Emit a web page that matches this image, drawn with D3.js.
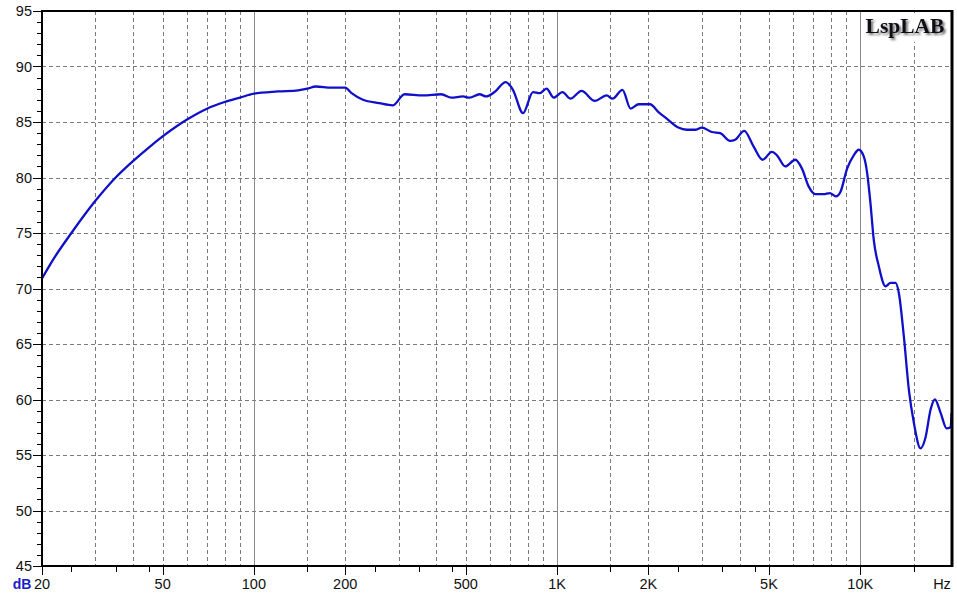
<!DOCTYPE html>
<html>
<head>
<meta charset="utf-8">
<script src="https://cdn.jsdelivr.net/npm/d3@7"></script>
<style>
  html, body { margin: 0; padding: 0; background: #fff; }
  svg { display: block; }
</style>
</head>
<body>
<svg id="chart" width="957" height="596"></svg>
<script>
// ---- data ----
const freqs = [20,22,25,30,35,40,45,50,60,70,80,90,100,120,140,150,160,180,200,210,
  229,259,287,314,361,415,448,489,514,555,584,622,677,715,772,833,877,923,975,
  1042,1107,1204,1332,1457,1524,1643,1748,1859,2025,2160,2300,2512,2678,2853,3002,
  3239,3451,3724,3868,4143,4446,4761,5114,5313,5658,6107,6425,6757,7111,7575,7930,
  8312,8603,9050,9517,9886,10270,10540,10806,11080,11514,12118,12587,13074,13406,
  13925,14465,15028,15812,16424,17064,17633,18414,19275,19871,20000];
const dbValues = [70.9,72.8,75.0,77.9,80.0,81.5,82.7,83.7,85.2,86.2,86.8,87.2,87.55,87.75,87.85,88.0,88.2,88.1,88.1,87.6,
  87.0,86.7,86.5,87.5,87.4,87.5,87.2,87.3,87.2,87.5,87.3,87.7,88.6,87.9,85.8,87.7,87.6,88.0,87.2,
  87.7,87.1,87.8,86.9,87.4,87.1,87.9,86.2,86.6,86.6,85.9,85.3,84.5,84.3,84.3,84.5,
  84.1,84.0,83.3,83.4,84.2,82.8,81.6,82.3,82.0,81.0,81.6,80.8,79.2,78.5,78.5,78.6,
  78.3,78.7,80.8,82.0,82.5,81.9,80.4,77.7,74.4,72.0,70.2,70.5,70.5,69.6,
  65.7,60.9,57.9,55.6,56.6,59.1,60.0,58.8,57.4,57.5,58.8];

const xLabelTicks = [20,50,100,200,500,1000,2000,5000,10000];
const xLabelTexts = ["20","50","100","200","500","1K","2K","5K","10K"];
const xSolidGrid = [100,1000,10000];
const xDashedGrid = [30,40,50,60,70,80,90,150,200,300,400,500,600,700,800,900,
  1500,2000,3000,4000,5000,6000,7000,8000,9000,15000];
const xMinorTicks = [25,35,45,150,250,350,450,1500,2500,3500,4500,15000];
const yMajorTicks = [45,50,55,60,65,70,75,80,85,90,95];
const yMinorTicks = d3.range(45,96,1);
const xUnit = "Hz";
const yUnit = "dB";
const logoText = "LspLAB";

// ---- layout ----
const L = 42, R = 951.5, T = 11, B = 566;
const svg = d3.select("#chart");
const x = d3.scaleLog().domain([20, 20000]).range([L, R]);
const y = d3.scaleLinear().domain([45, 95]).range([B, T]);

const font = "'Liberation Sans', Arial, sans-serif";

// grid
const grid = svg.append("g");
grid.selectAll("line.hg").data(yMajorTicks.filter(v => v > 45 && v < 95)).join("line")
  .attr("x1", L).attr("x2", R)
  .attr("y1", d => Math.round(y(d)) + 0.5).attr("y2", d => Math.round(y(d)) + 0.5)
  .attr("stroke", "#7a7a7a").attr("stroke-width", 1).attr("stroke-dasharray", "4,3");
grid.selectAll("line.vg").data(xDashedGrid).join("line")
  .attr("x1", d => Math.round(x(d)) + 0.5).attr("x2", d => Math.round(x(d)) + 0.5)
  .attr("y1", T).attr("y2", B)
  .attr("stroke", "#7a7a7a").attr("stroke-width", 1).attr("stroke-dasharray", "4,3");
grid.selectAll("line.vs").data(xSolidGrid).join("line")
  .attr("x1", d => Math.round(x(d)) + 0.5).attr("x2", d => Math.round(x(d)) + 0.5)
  .attr("y1", T).attr("y2", B)
  .attr("stroke", "#8a8a8a").attr("stroke-width", 1);

// logo background
const defs = svg.append("defs");
const f = defs.append("filter").attr("id", "sh").attr("x", "-10%").attr("y", "-20%").attr("width", "130%").attr("height", "160%");
f.append("feDropShadow").attr("dx", 2).attr("dy", 2).attr("stdDeviation", 1)
  .attr("flood-color", "#444").attr("flood-opacity", 0.75);
svg.append("rect").attr("x", 863).attr("y", 13).attr("width", 86).attr("height", 29).attr("fill", "#fff");
svg.append("text").attr("x", 905).attr("y", 33).attr("text-anchor", "middle")
  .attr("font-family", "'Liberation Serif', 'Times New Roman', serif")
  .attr("font-weight", "bold").attr("font-size", 21.5).attr("fill", "#101018")
  .attr("filter", "url(#sh)").text(logoText);

// curve
const pts = freqs.map((f, i) => [f, dbValues[i]]);
svg.append("defs").append("clipPath").attr("id", "clip")
  .append("rect").attr("x", L).attr("y", T).attr("width", R - L).attr("height", B - T);
svg.append("path").datum(pts)
  .attr("clip-path", "url(#clip)")
  .attr("d", d3.line().x(d => x(d[0])).y(d => y(d[1])).curve(d3.curveMonotoneX))
  .attr("fill", "none").attr("stroke", "#1010c8").attr("stroke-width", 2.3)
  .attr("stroke-linejoin", "round");

// axes frame
svg.append("line").attr("x1", L - 1).attr("x2", R + 1).attr("y1", T).attr("y2", T).attr("stroke", "#000").attr("stroke-width", 2);
svg.append("line").attr("x1", L - 1).attr("x2", R + 1).attr("y1", B).attr("y2", B).attr("stroke", "#000").attr("stroke-width", 2);
svg.append("line").attr("x1", L).attr("x2", L).attr("y1", T - 1).attr("y2", B + 1).attr("stroke", "#000").attr("stroke-width", 2);
svg.append("line").attr("x1", R + 0.5).attr("x2", R + 0.5).attr("y1", T - 1).attr("y2", B + 1).attr("stroke", "#000").attr("stroke-width", 3);

// y ticks
svg.append("g").selectAll("line").data(yMinorTicks).join("line")
  .attr("x1", d => yMajorTicks.includes(d) ? L - 9 : L - 5).attr("x2", L)
  .attr("y1", d => Math.round(y(d)) + 0.5).attr("y2", d => Math.round(y(d)) + 0.5)
  .attr("stroke", "#000").attr("stroke-width", 1);
svg.append("g").selectAll("text").data(yMajorTicks).join("text")
  .attr("x", 32).attr("y", d => y(d)).attr("dy", "0.36em")
  .attr("text-anchor", "end").attr("font-family", font).attr("font-size", 14.5).attr("fill", "#111")
  .text(d => d);

// x ticks
svg.append("g").selectAll("line").data(xLabelTicks).join("line")
  .attr("x1", d => Math.round(x(d)) + 0.5).attr("x2", d => Math.round(x(d)) + 0.5)
  .attr("y1", B).attr("y2", B + 9).attr("stroke", "#000").attr("stroke-width", 1);
svg.append("g").selectAll("line").data(xMinorTicks).join("line")
  .attr("x1", d => Math.round(x(d)) + 0.5).attr("x2", d => Math.round(x(d)) + 0.5)
  .attr("y1", B).attr("y2", B + 6).attr("stroke", "#000").attr("stroke-width", 1);
svg.append("g").selectAll("text").data(xLabelTicks).join("text")
  .attr("x", d => x(d)).attr("y", 589)
  .attr("text-anchor", "middle").attr("font-family", font).attr("font-size", 14.5).attr("fill", "#111")
  .text((d, i) => xLabelTexts[i]);

svg.append("text").attr("x", 942).attr("y", 589).attr("text-anchor", "middle")
  .attr("font-family", font).attr("font-size", 14.5).attr("fill", "#111").text(xUnit);
svg.append("text").attr("x", 22).attr("y", 589).attr("text-anchor", "middle")
  .attr("font-family", font).attr("font-weight", "bold").attr("font-size", 14).attr("fill", "#1a1ad0").text(yUnit);
</script>
</body>
</html>
